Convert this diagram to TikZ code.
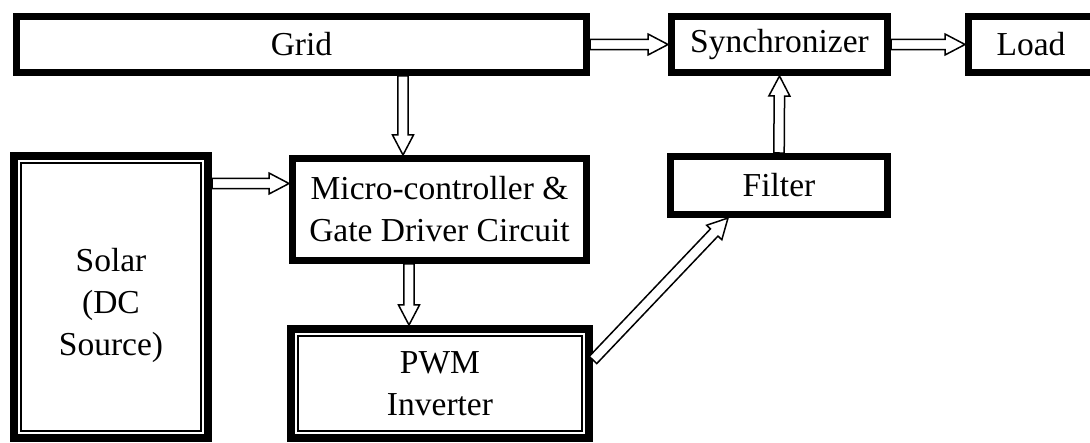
\documentclass[tikz,border=0pt]{standalone}
\usepackage{fontspec}
\setmainfont{Liberation Serif}
\usepackage{tikz}
\usetikzlibrary{positioning}
\usetikzlibrary{calc}

\tikzset{hollow/.style={draw, fill=white, line width=1.5pt, line join=miter,
		to path={($(\tikztotarget)!20pt!(\tikztostart)$) coordinate (hb)
			($(\tikztostart)!5.2pt!90:(\tikztotarget)$) -- ($(hb)!5.2pt!90:(\tikztotarget)$)
			-- ($(hb)!10.5pt!90:(\tikztotarget)$) -- (\tikztotarget)
			-- ($(hb)!10.5pt!-90:(\tikztotarget)$) -- ($(hb)!5.2pt!-90:(\tikztotarget)$)
			-- ($(\tikztostart)!5.2pt!-90:(\tikztotarget)$) -- cycle}}}

\begin{document}
\begin{tikzpicture}[x=1pt, y=-1pt,
	box/.style={draw, line width=7pt, inner sep=0pt, align=center,
		font=\fontsize{33.5}{42}\selectfont},
	dbox/.style={box, line width=8pt},
	inner/.style={line width=2.2pt}]
	\useasboundingbox (0,0) rectangle (1090,443);
	\clip (0,0) rectangle (1090,443);
	% top row
	\node[box, minimum width=570, minimum height=56] (grid) at (301.5,44.5) {Grid};
	\node[box, minimum width=216, minimum height=56] (sync) at (779.5,44.5) {Synchronizer};
	\node[box, minimum width=125, minimum height=56] (load) at (1031,44.5) {Load};
	% middle
	\node[box, minimum width=294, minimum height=102] (micro) at (439.5,209.5)
		{Micro-controller \&\\Gate Driver Circuit};
	\node[box, minimum width=217, minimum height=58] (filter) at (779,185.5) {Filter};
	% double framed boxes
	\node[dbox, minimum width=194, minimum height=282] (solar) at (111,297)
		{\rule{0pt}{40pt}Solar\\(DC\\Source)};
	\node[dbox, minimum width=298, minimum height=109] (pwm) at (440,383.5)
		{PWM\\Inverter};
	\foreach \n in {solar,pwm}
		\draw[inner] ([shift={(11pt,-11pt)}]\n.north west) rectangle ([shift={(-11pt,11pt)}]\n.south east);
	% arrows
	\coordinate (gm) at ([xshift=-36.5pt]micro.north);
	\coordinate (gs) at (gm |- grid.south);
	\coordinate (mp) at ([xshift=-31pt]pwm.north);
	\coordinate (ms) at (mp |- micro.south);
	\coordinate (sm) at ([yshift=26pt]micro.west);
	\coordinate (ss) at (sm -| solar.east);
	\coordinate (pe) at ([yshift=23.5pt]pwm.east);
	\coordinate (fs) at ([xshift=-51pt]filter.south);
	\draw[hollow] (grid.east) to (sync.west);
	\draw[hollow] (sync.east) to (load.west);
	\draw[hollow] (gs) to (gm);
	\draw[hollow] (ss) to (sm);
	\draw[hollow] (ms) to (mp);
	\draw[hollow] (filter.north) to (sync.south);
	\draw[hollow] (pe) to (fs);
\end{tikzpicture}
\end{document}
